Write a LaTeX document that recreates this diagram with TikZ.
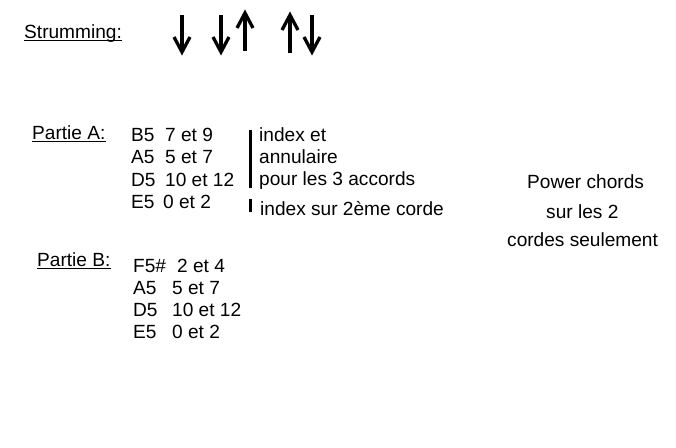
\documentclass[tikz,border=0pt]{standalone}
\usepackage{fontspec}
\setmainfont{Liberation Sans}
\begin{document}
\begin{tikzpicture}[x=1pt,y=-1pt,
  txt/.style={anchor=base west,inner sep=0pt,font=\fontsize{19.1}{22}\selectfont},
  arrowline/.style={line width=3.3pt,line cap=butt,line join=miter},
  barline/.style={line width=3pt},
  uline/.style={line width=1.3pt}]
\useasboundingbox[fill=white] (0,0) rectangle (676,447);
% Strumming
\node[txt] (strum) at (24,38) {Strumming:};
\draw[uline] ([yshift=-2.5pt]strum.base west) -- ([yshift=-2.5pt]strum.base east);
% arrows
\draw[arrowline] (182,15) -- (182,51);
\draw[arrowline] (174,37) -- (182,52) -- (190,37);
\draw[arrowline] (221,15) -- (221,51);
\draw[arrowline] (213,37) -- (221,52) -- (229,37);
\draw[arrowline] (245,51) -- (245,14);
\draw[arrowline] (237,28) -- (245,13) -- (253,28);
\draw[arrowline] (290,53) -- (290,16);
\draw[arrowline] (282,30) -- (290,15) -- (298,30);
\draw[arrowline] (312,15) -- (312,51);
\draw[arrowline] (304,37) -- (312,52) -- (320,37);
% Partie A
\node[txt] (pa) at (32,139) {Partie A:};
\draw[uline] ([yshift=-2.5pt]pa.base west) -- ([yshift=-2.5pt]pa.base east);
\node[txt] (a1) at (131,141) {\makebox[34pt][l]{B5}7 et 9};
\node[txt] (a2) at (131,163) {\makebox[34pt][l]{A5}5 et 7};
\node[txt] (a3) at (131,186) {\makebox[34pt][l]{D5}10 et 12};
\node[txt] (a4) at (131,208) {\makebox[32pt][l]{E5}0 et 2};
\draw[barline] (250,130) -- (250,188);
\draw[barline] (250,199) -- (250,212);
\node[txt] (n1) at (259,141) {index et};
\node[txt] (n2) at (259,163) {annulaire};
\node[txt] (n3) at (259,185) {pour les 3 accords};
\node[txt] (n4) at (260,215) {index sur 2ème corde};
% Power chords note
\node[txt] (p1) at (527,188) {Power chords};
\node[txt] (p2) at (546,218) {sur les 2};
\node[txt] (p3) at (507,246) {cordes seulement};
% Partie B
\node[txt] (pb) at (37,266) {Partie B:};
\draw[uline] ([yshift=-2.5pt]pb.base west) -- ([yshift=-2.5pt]pb.base east);
\node[txt] (b1) at (133,272) {\makebox[44pt][l]{F5\#}2 et 4};
\node[txt] (b2) at (133,294) {\makebox[39pt][l]{A5}5 et 7};
\node[txt] (b3) at (133,316) {\makebox[39pt][l]{D5}10 et 12};
\node[txt] (b4) at (133,338) {\makebox[39pt][l]{E5}0 et 2};
\end{tikzpicture}
\end{document}
